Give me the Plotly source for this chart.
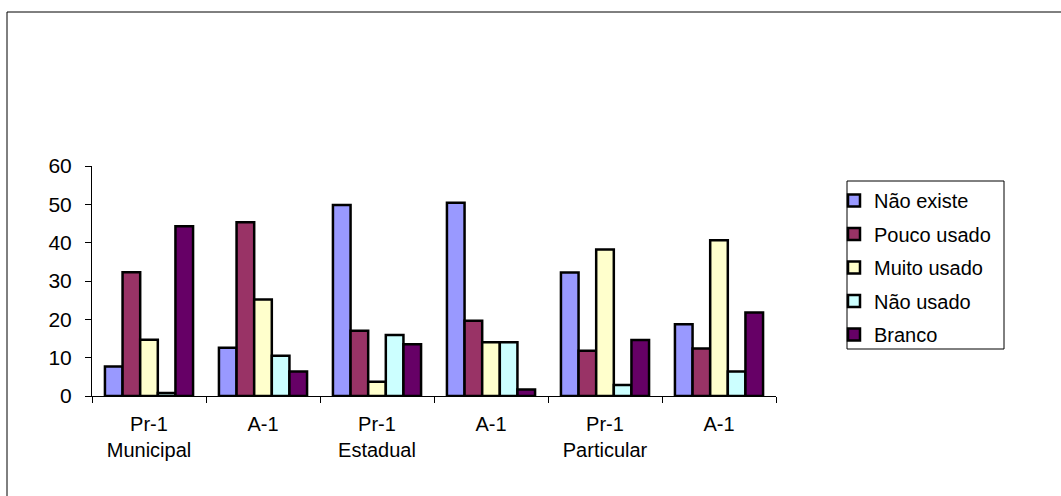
import plotly.graph_objects as go

# Categories along the x axis (school type / class)
categories = ["Pr-1<br>Municipal", "A-1", "Pr-1<br>Estadual", "A-1", "Pr-1<br>Particular", "A-1"]

# Series values (%)
nao_existe = [7.7, 12.6, 49.8, 50.4, 32.2, 18.7]
pouco_usado = [32.3, 45.3, 17.0, 19.6, 11.8, 12.4]
muito_usado = [14.7, 25.2, 3.7, 14.0, 38.2, 40.6]
nao_usado = [0.8, 10.5, 15.9, 14.0, 2.9, 6.4]
branco = [44.3, 6.4, 13.5, 1.7, 14.6, 21.8]

series_names = ["Não existe", "Pouco usado", "Muito usado", "Não usado", "Branco"]
series_values = [nao_existe, pouco_usado, muito_usado, nao_usado, branco]
series_colors = ["#9999FF", "#993366", "#FFFFCC", "#CCFFFF", "#660066"]

y_ticks = [0, 10, 20, 30, 40, 50, 60]

W, H = 1061, 496
ML, MR, MT, MB = 92, 285, 166, 100
PW, PH = W - ML - MR, H - MT - MB


def px_x(px):
    return (px - ML) / PW


def px_y(py):
    return (H - MB - py) / PH


FONT = "Liberation Sans, Arial, sans-serif"
positions = list(range(len(categories)))

fig = go.Figure()
for i, (name, vals, col) in enumerate(zip(series_names, series_values, series_colors)):
    fig.add_trace(go.Bar(
        x=positions, y=vals, name=name, legendgroup=f"g{i}",
        marker=dict(color=col, line=dict(color="black", width=2.5)),
    ))

fig.update_layout(
    width=W, height=H,
    margin=dict(l=ML, r=MR, t=MT, b=MB, pad=0),
    paper_bgcolor="white", plot_bgcolor="white",
    barmode="group", bargap=0.227, bargroupgap=0,
    font=dict(family=FONT, color="black"),
    showlegend=True,
    legend=dict(
        x=px_x(834), y=px_y(181), xanchor="left", yanchor="top",
        font=dict(family=FONT, size=20, color="black"),
        bgcolor="rgba(0,0,0,0)", borderwidth=0,
        tracegroupgap=4.5, itemwidth=30,
    ),
    xaxis=dict(
        range=[-0.5, len(categories) - 0.5],
        tickmode="array",
        tickvals=[p - 0.5 for p in positions] + [len(categories) - 0.5],
        showticklabels=False,
        ticks="outside", ticklen=6, tickwidth=1, tickcolor="black",
        showline=True, linecolor="black", linewidth=1,
        showgrid=False, zeroline=False,
    ),
    xaxis2=dict(
        overlaying="x", anchor="y", side="bottom",
        range=[-0.5, len(categories) - 0.5],
        tickmode="array", tickvals=positions, ticktext=categories,
        tickfont=dict(family=FONT, size=20, color="black"),
        ticks="", ticklabelstandoff=14,
        showline=False, showgrid=False, zeroline=False,
    ),
    yaxis=dict(
        range=[0, 60], tickmode="array", tickvals=y_ticks,
        tickfont=dict(family=FONT, size=21, color="black"),
        ticks="outside", ticklen=6, tickwidth=1, tickcolor="black",
        ticklabelstandoff=9,
        showline=True, linecolor="black", linewidth=1,
        showgrid=False, zeroline=False,
    ),
)

# invisible trace that activates the category label axis
fig.add_trace(go.Scatter(x=positions, y=[0] * len(positions), xaxis="x2",
                         mode="markers", marker=dict(opacity=0),
                         showlegend=False, hoverinfo="skip"))

# outer chart frame and legend box
fig.add_shape(type="rect", xref="paper", yref="paper",
              x0=px_x(7), x1=px_x(1200), y0=px_y(12), y1=px_y(600),
              line=dict(color="black", width=1), layer="below")
fig.add_shape(type="rect", xref="paper", yref="paper",
              x0=px_x(847), x1=px_x(1004), y0=px_y(181), y1=px_y(349),
              line=dict(color="black", width=1))

fig.write_html("out.html")
